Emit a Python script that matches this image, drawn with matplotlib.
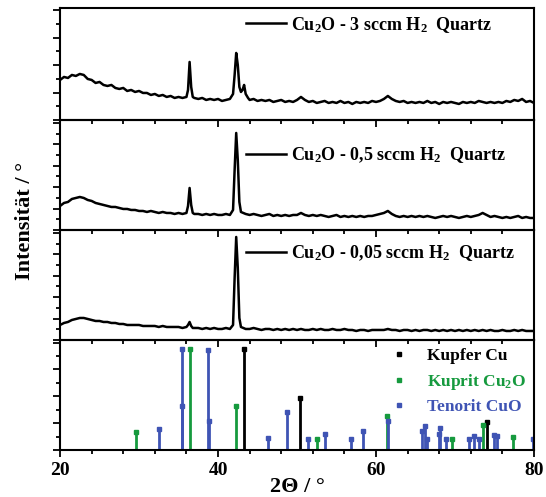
import matplotlib
matplotlib.use("Agg")
import matplotlib.pyplot as plt
from matplotlib.lines import Line2D
from matplotlib.ticker import MultipleLocator

plt.rcParams['font.family'] = ['Liberation Serif', 'DejaVu Serif']
plt.rcParams['font.weight'] = 'bold'
plt.rcParams['mathtext.fontset'] = 'custom'
plt.rcParams['mathtext.rm'] = 'Liberation Serif:bold'
plt.rcParams['mathtext.it'] = 'Liberation Serif:bold'
plt.rcParams['mathtext.bf'] = 'Liberation Serif:bold'

# ---------------- measured XRD curves (2theta, intensity a.u.) ----------------
theta_3 = [20.0, 20.5, 21.0, 21.5, 22.0, 22.5, 23.0, 23.5, 24.0, 24.5, 25.0, 25.5, 26.0, 26.5,
           27.0, 27.5, 28.0, 28.5, 29.0, 29.5, 30.0, 30.5, 31.0, 31.5, 32.0, 32.5, 33.0, 33.5,
           34.0, 34.5, 35.0, 35.5, 36.0, 36.2, 36.4, 36.6, 36.8, 37.0, 37.5, 38.0, 38.5, 39.0,
           39.5, 40.0, 40.5, 41.0, 41.5, 41.9, 42.1, 42.3, 42.5, 42.7, 42.9, 43.1, 43.3, 43.5,
           43.8, 44.0, 44.5, 45.0, 45.5, 46.0, 46.5, 47.0, 47.5, 48.0, 48.5, 49.0, 49.5, 50.0,
           50.5, 51.0, 51.5, 52.0, 52.5, 53.0, 53.5, 54.0, 54.5, 55.0, 55.5, 56.0, 56.5, 57.0,
           57.5, 58.0, 58.5, 59.0, 59.5, 60.0, 60.5, 61.0, 61.5, 62.0, 62.5, 63.0, 63.5, 64.0,
           64.5, 65.0, 65.5, 66.0, 66.5, 67.0, 67.5, 68.0, 68.5, 69.0, 69.5, 70.0, 70.5, 71.0,
           71.5, 72.0, 72.5, 73.0, 73.5, 74.0, 74.5, 75.0, 75.5, 76.0, 76.5, 77.0, 77.5, 78.0,
           78.5, 79.0, 79.5, 80.0]
int_3 = [40, 43, 42, 45, 44, 46, 45, 41, 40, 37, 38, 35, 34, 35,
         32, 31, 32, 29, 30, 28, 29, 27, 27, 25, 26, 24, 25, 23,
         24, 22, 23, 22, 23, 30, 58, 33, 23, 22, 21, 22, 20, 21,
         20, 21, 19, 20, 21, 26, 45, 67, 55, 33, 28, 30, 35, 26,
         22, 20, 21, 19, 20, 19, 20, 18, 19, 20, 18, 19, 18, 20,
         23, 20, 18, 19, 17, 18, 19, 17, 18, 17, 19, 17, 18, 16,
         18, 17, 18, 17, 19, 18, 19, 21, 24, 21, 19, 18, 19, 17,
         18, 17, 18, 17, 19, 17, 18, 16, 18, 17, 18, 17, 16, 18,
         17, 18, 17, 19, 18, 17, 18, 17, 18, 17, 19, 18, 20, 19,
         21, 18, 19, 17]

theta_05 = [20.0, 20.5, 21.0, 21.5, 22.0, 22.5, 23.0, 23.5, 24.0, 24.5, 25.0, 25.5, 26.0, 26.5,
            27.0, 27.5, 28.0, 28.5, 29.0, 29.5, 30.0, 30.5, 31.0, 31.5, 32.0, 32.5, 33.0, 33.5,
            34.0, 34.5, 35.0, 35.5, 36.0, 36.2, 36.4, 36.6, 36.8, 37.0, 37.5, 38.0, 38.5, 39.0,
            39.5, 40.0, 40.5, 41.0, 41.5, 41.9, 42.1, 42.3, 42.5, 42.7, 42.9, 43.2, 43.5, 44.0,
            44.5, 45.0, 45.5, 46.0, 46.5, 47.0, 47.5, 48.0, 48.5, 49.0, 49.5, 50.0, 50.5, 51.0,
            51.5, 52.0, 52.5, 53.0, 53.5, 54.0, 54.5, 55.0, 55.5, 56.0, 56.5, 57.0, 57.5, 58.0,
            58.5, 59.0, 59.5, 60.0, 60.5, 61.0, 61.5, 62.0, 62.5, 63.0, 63.5, 64.0, 64.5, 65.0,
            65.5, 66.0, 66.5, 67.0, 67.5, 68.0, 68.5, 69.0, 69.5, 70.0, 70.5, 71.0, 71.5, 72.0,
            72.5, 73.0, 73.5, 74.0, 74.5, 75.0, 75.5, 76.0, 76.5, 77.0, 77.5, 78.0, 78.5, 79.0,
            79.5, 80.0]
int_05 = [24, 27, 28, 31, 32, 33, 32, 30, 29, 27, 26, 25, 24, 23,
          23, 22, 21, 21, 20, 20, 19, 19, 18, 19, 18, 17, 18, 17,
          17, 16, 17, 16, 17, 24, 42, 25, 17, 16, 16, 15, 16, 15,
          16, 15, 15, 16, 15, 20, 60, 97, 70, 28, 18, 17, 16, 15,
          16, 15, 14, 15, 16, 14, 15, 14, 15, 14, 15, 15, 17, 15,
          14, 15, 14, 15, 14, 13, 14, 15, 13, 14, 13, 14, 13, 14,
          13, 14, 14, 15, 16, 17, 19, 16, 14, 13, 14, 13, 14, 13,
          14, 13, 14, 13, 12, 13, 14, 13, 14, 13, 12, 13, 14, 13,
          14, 15, 17, 15, 13, 14, 13, 12, 13, 12, 13, 14, 12, 13,
          12, 12]

theta_005 = [20.0, 20.5, 21.0, 21.5, 22.0, 22.5, 23.0, 23.5, 24.0, 24.5, 25.0, 25.5, 26.0, 26.5,
             27.0, 27.5, 28.0, 28.5, 29.0, 29.5, 30.0, 30.5, 31.0, 31.5, 32.0, 32.5, 33.0, 33.5,
             34.0, 34.5, 35.0, 35.5, 36.0, 36.2, 36.4, 36.6, 36.8, 37.0, 37.5, 38.0, 38.5, 39.0,
             39.5, 40.0, 40.5, 41.0, 41.5, 41.9, 42.1, 42.3, 42.5, 42.7, 42.9, 43.2, 43.5, 44.0,
             44.5, 45.0, 45.5, 46.0, 46.5, 47.0, 47.5, 48.0, 48.5, 49.0, 49.5, 50.0, 50.5, 51.0,
             51.5, 52.0, 52.5, 53.0, 53.5, 54.0, 54.5, 55.0, 55.5, 56.0, 56.5, 57.0, 57.5, 58.0,
             58.5, 59.0, 59.5, 60.0, 60.5, 61.0, 61.5, 62.0, 62.5, 63.0, 63.5, 64.0, 64.5, 65.0,
             65.5, 66.0, 66.5, 67.0, 67.5, 68.0, 68.5, 69.0, 69.5, 70.0, 70.5, 71.0, 71.5, 72.0,
             72.5, 73.0, 73.5, 74.0, 74.5, 75.0, 75.5, 76.0, 76.5, 77.0, 77.5, 78.0, 78.5, 79.0,
             79.5, 80.0]
int_005 = [15, 17, 18, 20, 21, 22, 22, 21, 20, 19, 19, 18, 18, 17,
           17, 16, 16, 15, 15, 15, 15, 14, 14, 14, 14, 13, 14, 13,
           13, 13, 13, 12, 13, 15, 18, 14, 12, 12, 12, 11, 12, 11,
           12, 11, 11, 12, 11, 15, 62, 103, 72, 22, 13, 12, 11, 11,
           12, 11, 10, 11, 11, 10, 11, 10, 11, 10, 11, 10, 11, 10,
           10, 11, 10, 11, 10, 10, 11, 10, 10, 11, 10, 10, 9, 10,
           10, 9, 10, 10, 10, 10, 11, 10, 10, 9, 10, 10, 9, 10,
           9, 10, 10, 9, 10, 9, 10, 9, 10, 9, 10, 9, 10, 9,
           10, 9, 10, 9, 10, 9, 9, 10, 9, 9, 10, 9, 10, 9,
           9, 9]

labels_meas = [r"Cu$_2$O - 3 sccm H$_2$  Quartz",
               r"Cu$_2$O - 0,5 sccm H$_2$  Quartz",
               r"Cu$_2$O - 0,05 sccm H$_2$  Quartz"]

# ---------------- reference patterns (2theta, relative intensity) ----------------
cu_pos = [43.3, 50.4, 74.1]
cu_int = [100, 52, 28]
cu2o_pos = [29.6, 36.4, 42.3, 52.5, 61.4, 69.6, 73.5, 77.4]
cu2o_int = [18, 100, 44, 11, 34, 11, 25, 13]
cuo_pos = [32.5, 35.4, 35.5, 38.7, 38.9, 46.3, 48.7, 51.4, 53.5, 56.8, 58.3, 61.5,
           65.8, 66.2, 66.5, 68.0, 68.1, 68.9, 71.8, 72.4, 73.0, 75.0, 75.3, 79.9]
cuo_int = [21, 44, 100, 99, 29, 12, 38, 11, 16, 11, 19, 29,
           19, 24, 11, 16, 22, 11, 11, 14, 11, 15, 14, 11]
ref_labels = ["Kupfer Cu", r"Kuprit Cu$_2$O", "Tenorit CuO"]

c_black = '#000000'
c_green = '#169a3e'
c_blue = '#3f54b4'

fig = plt.figure(figsize=(5.46, 4.97), dpi=100)
gs = fig.add_gridspec(4, 1, left=0.110, right=0.978, top=0.984, bottom=0.0946,
                      hspace=0, height_ratios=[112, 110, 110, 110])
axes = [fig.add_subplot(gs[i]) for i in range(4)]

curves = [(theta_3, int_3), (theta_05, int_05), (theta_005, int_005)]
ylims = [(0, 112), (0, 110), (0, 110)]
leg_y = [0.85, 0.68, 0.79]
ytick_step = [13.7, 10.7, 10.7]

for i, ax in enumerate(axes[:3]):
    x, y = curves[i]
    ax.plot(x, y, color='black', lw=1.8, label=labels_meas[i])
    ax.set_ylim(*ylims[i])
    ax.legend(loc='center left', bbox_to_anchor=(0.392, leg_y[i]), frameon=False,
              handlelength=2.25, handletextpad=0.25, borderpad=0,
              borderaxespad=0, prop={'weight': 'bold', 'size': 13})
    ax.yaxis.set_major_locator(MultipleLocator(ytick_step[i] * 2))
    ax.yaxis.set_minor_locator(MultipleLocator(ytick_step[i]))

ax = axes[3]
ax.vlines(cu_pos, 0, cu_int, color=c_black, lw=2)
ax.vlines(cu2o_pos, 0, cu2o_int, color=c_green, lw=2)
ax.vlines(cuo_pos, 0, cuo_int, color=c_blue, lw=2)
ax.plot(cu_pos, cu_int, 's', color=c_black, ms=3.5, ls='none')
ax.plot(cu2o_pos, cu2o_int, 's', color=c_green, ms=3.5, ls='none')
ax.plot(cuo_pos, cuo_int, 's', color=c_blue, ms=3.5, ls='none')
ax.set_ylim(0, 109)
ax.yaxis.set_major_locator(MultipleLocator(26.6))
ax.yaxis.set_minor_locator(MultipleLocator(13.3))
handles = [Line2D([], [], marker='s', color=c, ls='none', ms=3.5)
           for c in (c_black, c_green, c_blue)]
ax.legend(handles, ref_labels, loc='center left', bbox_to_anchor=(0.694, 0.62),
          frameon=False, handlelength=1.2, handletextpad=1.0, labelspacing=0.42,
          borderpad=0, borderaxespad=0, labelcolor=[c_black, c_green, c_blue],
          prop={'weight': 'bold', 'size': 12.5})

for i, ax in enumerate(axes):
    ax.set_xlim(20, 80)
    ax.xaxis.set_major_locator(MultipleLocator(20))
    ax.xaxis.set_minor_locator(MultipleLocator(4))
    ax.tick_params(axis='both', which='major', direction='out', length=5, width=1.3)
    ax.tick_params(axis='both', which='minor', direction='out', length=3, width=1.3)
    ax.tick_params(axis='y', labelleft=False)
    ax.tick_params(axis='x', top=False, labelbottom=(i == 3), labelsize=14, pad=4)
    for s in ax.spines.values():
        s.set_linewidth(1.5)
    ax.set_facecolor('none')

axes[3].set_xticks([20, 40, 60, 80])
for lab in axes[3].get_xticklabels():
    lab.set_fontweight('bold')
fig.text(0.545, 1 - 487 / 497, "2Θ / °", fontsize=16, fontweight='bold',
         ha='center', va='center')
fig.text(0.046, 0.555, "Intensität / °", rotation=90, fontsize=16, fontweight='bold',
         ha='center', va='center')

fig.savefig("out.png", dpi=100)
